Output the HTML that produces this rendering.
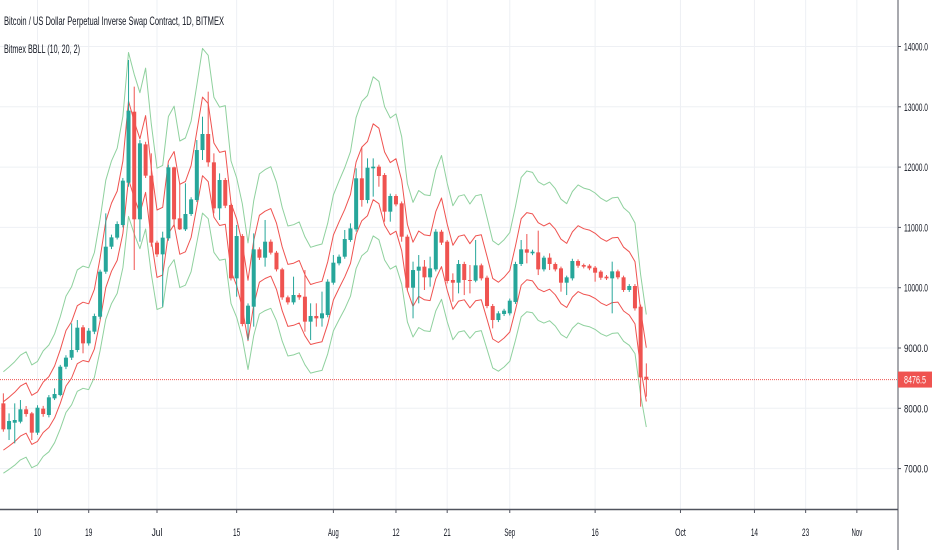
<!DOCTYPE html>
<html><head><meta charset="utf-8">
<style>
html,body{margin:0;padding:0;background:#fff;}
svg{display:block;font-family:"Liberation Sans",sans-serif;}
</style></head>
<body>
<svg id="chart" width="932" height="550" viewBox="0 0 932 550">
<rect x="0" y="0" width="932" height="550" fill="#fff"/>
<g id="grid"></g>
<g id="bands"></g>
<g id="candles"></g>
<g id="axes"></g>
<text x="4" y="25" font-size="12" fill="#131722" textLength="220" lengthAdjust="spacingAndGlyphs">Bitcoin / US Dollar Perpetual Inverse Swap Contract, 1D, BITMEX</text>
<text x="4" y="53" font-size="12" fill="#131722" textLength="76" lengthAdjust="spacingAndGlyphs">Bitmex BBLL (10, 20, 2)</text>
</svg>
<script>
const priceTicks=[14000,13000,12000,11000,10000,9000,8000,7000];
const dateLabels=["10","19","Jul","15","Aug","12","21","Sep","16","Oct","14","23","Nov"];
const dateDays=[0,9,21,35,52,63,72,83,98,113,126,135,144];
const lastPrice=8476.5;
const opens=[8082,7651,7761,7778,7983,7916,7596,7994,7889,8165,8220,8690,8840,8967,9343,9077,9271,9519,10266,10680,10830,11040,11742,12919,11134,12377,11858,10747,10553,10819,11996,11150,10968,11222,11454,12283,12549,12079,11316,11786,11371,10155,10857,9398,9685,10636,10498,10763,10581,10304,9840,9757,9879,9851,9437,9531,9492,9547,10083,10404,10514,10791,10968,11814,11454,11980,12007,11869,11261,11521,11399,10846,10000,10282,10349,10172,10304,10929,10763,10128,10083,10393,10128,10117,10371,10166,9696,9464,9564,9575,9763,10393,10636,10570,10586,10304,10498,10393,10321,10083,10155,10443,10376,10365,10332,10266,10183,10155,10271,10172,9962,10028,9685,8524];
const highs=[8248,7916,8082,8137,8038,7940,8050,8040,8220,8331,8720,8880,9409,9464,9380,9330,9570,10300,11233,10880,11100,11820,13776,13334,12449,12420,12228,10780,10929,12040,12007,11731,11731,11500,12449,12836,13251,12228,11896,11820,11400,11040,10890,9740,10901,10670,11123,10800,10610,10330,9870,10183,9910,10293,9741,9741,9934,10140,10542,10550,10957,11067,11980,12328,12145,12145,12040,11900,11560,11550,11430,10880,10432,10542,10459,10515,10970,10960,10790,10238,10459,10430,10376,10791,10400,10200,9730,9610,9650,9820,10430,10791,10890,10630,10946,10530,10570,10420,10350,10200,10480,10470,10400,10390,10360,10290,10210,10432,10300,10200,10060,10060,9720,8745];
const lows=[7612,7474,7419,7750,7861,7474,7560,7860,7850,8137,8200,8650,8801,8930,8912,9040,9230,9480,10230,10640,10800,11000,11675,10293,10763,11820,10680,10510,9685,10780,11012,10957,10940,11190,11420,12118,12007,11233,11123,11320,10120,9851,9360,9132,9354,10460,10349,10550,10270,9800,9720,9720,9800,9271,9132,9354,9354,9510,10050,10370,10480,10760,10930,11344,11399,11510,11675,11095,11095,11350,10763,9960,9492,9741,9962,10017,10270,10710,10070,9768,9906,9878,9906,10090,10120,9660,9326,9430,9530,9540,9730,10360,10404,10540,10210,10270,10293,10270,9934,9878,10120,10330,10320,10290,10100,10130,10128,9575,10140,9930,9930,9620,8027,8193];
const closes=[7651,7789,7806,7983,7905,7596,8010,7905,8182,8237,8690,8840,8967,9337,9077,9287,9530,10266,10680,10835,11056,11775,12936,11134,12394,11858,10747,10553,10830,11996,11134,10968,11222,11465,12283,12549,12079,11316,11786,11360,10155,10857,9398,9702,10636,10498,10763,10581,10304,9840,9757,9879,9840,9437,9531,9492,9575,10100,10415,10514,10807,10984,11814,11454,11990,12007,11852,11261,11521,11382,10846,10000,10293,10349,10172,10321,10929,10747,10111,10083,10393,10128,10117,10371,10155,9696,9464,9575,9619,9785,10393,10636,10581,10597,10304,10498,10393,10304,10083,10172,10443,10365,10349,10321,10249,10166,10155,10271,10172,9962,10028,9658,8513,8476];

const NS="http://www.w3.org/2000/svg";
const PW=897, PH=509;
const pxPerDay=5.69, x0=37.5;
function xDay(d){return x0+d*pxPerDay;}
function xIdx(i){return xDay(i-6);}
function yP(p){return 46.5+(14000-p)*0.0603;}
function mk(tag,attrs,parent){const e=document.createElementNS(NS,tag);for(const k in attrs)e.setAttribute(k,attrs[k]);parent.appendChild(e);return e;}

const grid=document.getElementById('grid');
priceTicks.forEach(p=>{
  const l=mk('line',{x1:0,x2:PW,y1:yP(p),y2:yP(p),stroke:'#eef0f4','stroke-width':1},grid);
  
  
});
dateDays.forEach(d=>{
  const l=mk('line',{x1:xDay(d),x2:xDay(d),y1:0,y2:PH,stroke:'#eef0f4','stroke-width':1},grid);
  
  
});

// bands derived from closes
const bands=document.getElementById('bands');
function sma(arr,i,n){let s=0,c=0;for(let k=Math.max(0,i-n+1);k<=i;k++){s+=arr[k];c++;}return s/c;}
const defs=[['green-upper-band','#8fd19e',1.125],['red-upper-band','#ef5350',1.06],['red-lower-band','#ef5350',0.955],['green-lower-band','#8fd19e',0.905]];
defs.forEach(([name,col,f])=>{
  let d='';
  for(let i=0;i<closes.length;i++){const v=sma(closes,i,2)*f;d+=(i?'L':'M')+xIdx(i).toFixed(1)+','+yP(v).toFixed(1);}
  const p=mk('path',{d:d,fill:'none',stroke:col,'stroke-width':1,'stroke-linejoin':'round'},bands);
  
  
});

const cg=document.getElementById('candles');
for(let i=0;i<closes.length;i++){
  const up=closes[i]>=opens[i];
  const col=up?'#26a69a':'#ef5350';
  const x=xIdx(i);
  const g=mk('g',{},cg);
  
  
  mk('line',{x1:x,x2:x,y1:yP(highs[i]),y2:yP(lows[i]),stroke:col,'stroke-width':1},g);
  const t=yP(Math.max(opens[i],closes[i])), b=yP(Math.min(opens[i],closes[i]));
  mk('rect',{x:x-2,y:t,width:4,height:Math.max(1,b-t),fill:col},g);
}

const ax=document.getElementById('axes');
const ly=yP(lastPrice);
let ll=mk('line',{x1:0,x2:PW,y1:ly,y2:ly,stroke:'#ef5350','stroke-width':1,'stroke-dasharray':'1,1'},ax);


let a1=mk('line',{x1:PW+1,x2:PW+1,y1:0,y2:550,stroke:'#50535e','stroke-width':1},ax);


let a2=mk('line',{x1:0,x2:PW+1,y1:PH+0.5,y2:PH+0.5,stroke:'#50535e','stroke-width':1.5},ax);


priceTicks.forEach(p=>{
  mk('line',{x1:PW+1,x2:PW+4,y1:yP(p),y2:yP(p),stroke:'#50535e'},ax);
  const t=mk('text',{x:904,y:yP(p)+4,'font-size':11,fill:'#131722',textLength:24,lengthAdjust:'spacingAndGlyphs'},ax);
  t.textContent=p.toFixed(1);
  
  
});
dateLabels.forEach((s,k)=>{
  const x=xDay(dateDays[k]);
  mk('line',{x1:x,x2:x,y1:PH,y2:PH+4,stroke:'#50535e'},ax);
  const t=mk('text',{x:x,y:536,'font-size':11,fill:'#131722','text-anchor':'middle',textLength:s.length*3.6,lengthAdjust:'spacingAndGlyphs'},ax);
  t.textContent=s;
  
  
});
const bx=mk('rect',{x:PW+1,y:ly-8,width:35,height:16,fill:'#ef5350'},ax);


const bt=mk('text',{x:904,y:ly+4,'font-size':11,fill:'#fff',textLength:22,lengthAdjust:'spacingAndGlyphs'},ax);
bt.textContent=lastPrice.toFixed(1);


</script>
</body></html>
